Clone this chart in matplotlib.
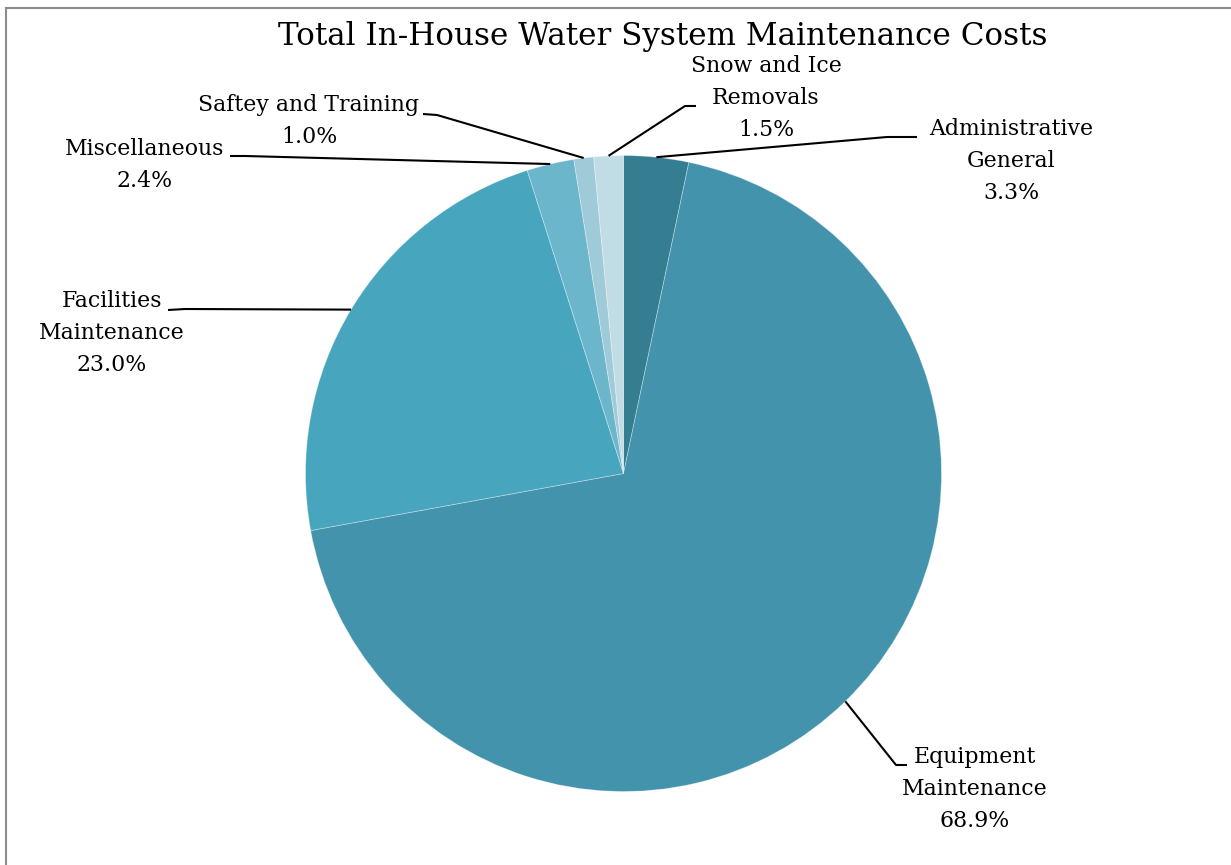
import matplotlib.pyplot as plt
import numpy as np
from matplotlib.patches import Rectangle

# cost shares, in pie order (clockwise from 12 o'clock)
categories = ['Administrative\nGeneral', 'Equipment\nMaintenance', 'Facilities\nMaintenance',
              'Miscellaneous', 'Saftey and Training', 'Snow and Ice\nRemovals']
shares = [3.3, 68.9, 23.0, 2.4, 1.0, 1.5]
colors = ['#357e92', '#4293ab', '#48a5be', '#6cb6cc', '#9fcbd9', '#c1dce5']

# label block centres and leader elbow/end points, in pixels from the top-left
label_pos = [(1011, 161), (975, 789), (112, 333), (145, 165), (309, 121), (766, 98)]
elbows = [((887, 137), (917, 137)), ((896, 765), (907, 765)), ((185, 309), (168, 310)),
          ((245, 156), (230, 156)), ((437, 115), (423, 114)), ((685, 106), (696, 106))]

W, H = 1231, 865
cx, cy, R = 623.5, 473.5, 318

plt.rcParams['font.family'] = 'DejaVu Serif'

fig = plt.figure(figsize=(W / 100, H / 100), dpi=100)
ax = fig.add_axes([0, 0, 1, 1])

def py(y):
    return H - y

wedges, _ = ax.pie(shares, colors=colors, startangle=90, counterclock=False,
                   center=(cx, py(cy)), radius=R, frame=True,
                   wedgeprops=dict(edgecolor=(1, 1, 1, 0.35), linewidth=0.6))
ax.set_xlim(0, W)
ax.set_ylim(0, H)
ax.set_aspect('equal')
ax.axis('off')

for w, cat, val, (lx, ly), (elb, end) in zip(wedges, categories, shares, label_pos, elbows):
    mid = np.deg2rad((w.theta1 + w.theta2) / 2)
    ax0 = cx + R * np.cos(mid)
    ay0 = py(cy) + R * np.sin(mid)
    ax.plot([ax0, elb[0], end[0]], [ay0, py(elb[1]), py(end[1])],
            color='black', linewidth=1.5, solid_capstyle='butt')
    ax.text(lx, py(ly), f'{cat}\n{val:.1f}%', ha='center', va='center',
            fontsize=15.8, linespacing=1.58, color='black')

ax.text(663, py(37), 'Total In-House Water System Maintenance Costs',
        ha='center', va='center', fontsize=22.3, color='black')

# chart-area border
fig.patches.append(Rectangle((6 / W, -0.1), 1.2, 1 + 0.1 - 8 / H, transform=fig.transFigure,
                             fill=False, edgecolor='#8c8c8c', linewidth=1.5))

fig.savefig('out.png', dpi=100)
